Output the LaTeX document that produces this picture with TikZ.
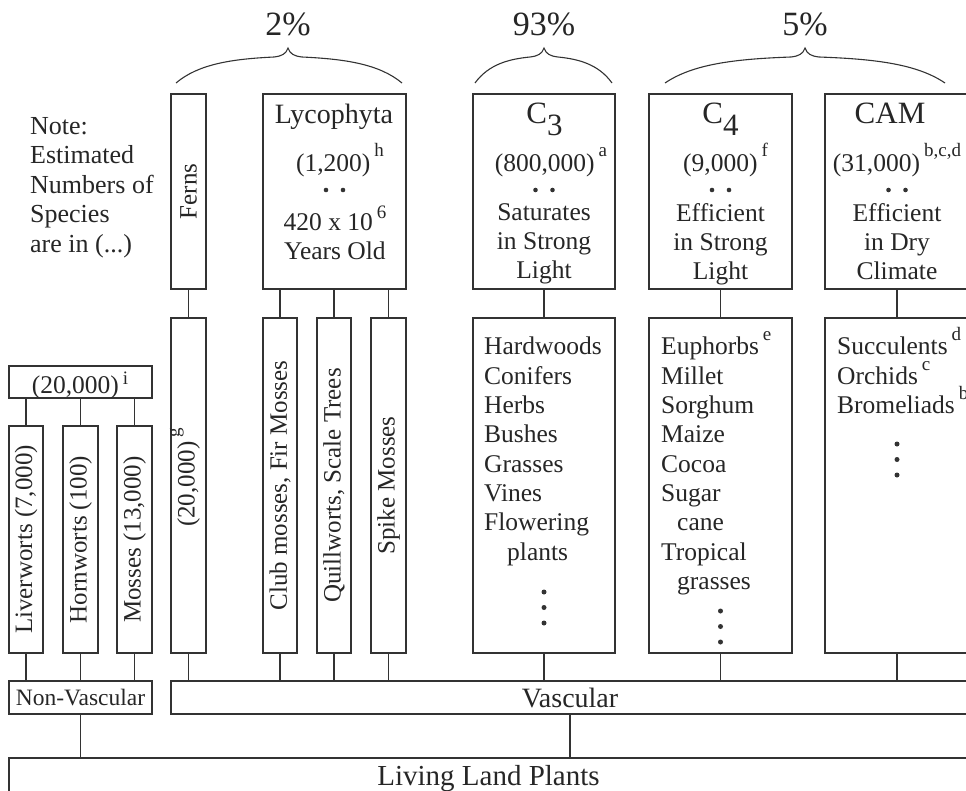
\documentclass[tikz,border=0pt]{standalone}
\usepackage{fontspec}
\setmainfont{Liberation Serif}
\usepackage{graphicx}
\usepackage{tikz}
\usetikzlibrary{positioning,calc}

\newcommand{\sups}[2][15pt]{\hspace{4pt}\raisebox{#1}[0pt][0pt]{\fontsize{19}{19}\selectfont #2}}
\newcommand{\csub}[1]{\raisebox{-12pt}{#1}}

\begin{document}
\begin{tikzpicture}[
    x=1pt, y=-1pt,
    box/.style={rectangle, draw=black!80, line width=1.3pt, inner sep=0pt},
    txt/.style={inner sep=0pt, align=center, text=black!85,
                font=\fontsize{25.5}{29.3}\selectfont},
    lst/.style={txt, align=left, anchor=north west},
    side/.style={txt, font=\fontsize{25}{25}\selectfont},
    head/.style={txt, anchor=base, font=\fontsize{31}{31}\selectfont},
    pct/.style={txt, anchor=base, font=\fontsize{34}{34}\selectfont},
    link/.style={draw=black!80, line width=1.1pt},
    brace/.style={draw=black!80, line width=1.1pt},
    dotc/.style={fill=black!80},
  ]
  \useasboundingbox (0,0) rectangle (966,790);
  \clip (0,0) rectangle (966,790);

  % Shares and braces
  \node[pct] (pctlyco) at (288,35) {2\%};
  \node[pct] (pctcthree) at (544,35) {93\%};
  \node[pct] (pctcfour) at (805,35) {5\%};
  \foreach \l/\m/\r in {176/288/402, 475/544/612, 665/805/945}
    \draw[brace] (\l,83) .. controls ({\l+0.2*(\m-\l)},64) and ({\l+0.5*(\m-\l)},59) .. ({\m-14},57)
      .. controls ({\m-6},56) and ({\m-2},54) .. (\m,48)
      .. controls ({\m+2},54) and ({\m+6},56) .. ({\m+14},57)
      .. controls ({\r-0.5*(\r-\m)},59) and ({\r-0.2*(\r-\m)},64) .. (\r,83);

  % Note
  \node[txt, align=left, anchor=north west, font=\fontsize{26}{29.5}\selectfont] (note) at (30,117)
    {Note:\\Estimated\\Numbers of\\Species\\are in (...)};

  % Top row
  \node[box, side, minimum width=35pt, minimum height=195pt] (ferns) at (188.5,191.5) {\rotatebox{90}{Ferns}};
  \node[box, minimum width=143pt, minimum height=195pt] (lyco) at (334.5,191.5) {};
  \node[box, minimum width=142pt, minimum height=195pt] (cthree) at (544,191.5) {};
  \node[box, minimum width=143pt, minimum height=195pt] (cfour) at (720.5,191.5) {};
  \node[box, minimum width=144pt, minimum height=195pt] (cam) at (897,191.5) {};

  \node[txt, anchor=base, font=\fontsize{28}{28}\selectfont] (lycohead) at (334,123) {Lycophyta};
  \node[txt, anchor=base] (lyconum) at (340,171) {(1,200)\sups{h}};
  \node[txt, anchor=north] (lycoage) at (335,213) {420 x 10\sups[12pt]{6}\\Years Old};
  \node[head] (cthreehead) at (544.5,123) {C\csub{3}};
  \node[txt, anchor=base] (cthreenum) at (551,171) {(800,000)\sups{a}};
  \node[txt, anchor=north] (cthreedesc) at (544,203) {Saturates\\in Strong\\Light};
  \node[head] (cfourhead) at (720.5,123) {C\csub{4}};
  \node[txt, anchor=base] (cfournum) at (725.5,171) {(9,000)\sups{f}};
  \node[txt, anchor=north] (cfourdesc) at (720.5,203) {Efficient\\in Strong\\Light};
  \node[head] (camhead) at (890,123) {CAM};
  \node[txt, anchor=base] (camnum) at (897,171) {(31,000)\sups{b,c,d}};
  \node[txt, anchor=north] (camdesc) at (897,203) {Efficient\\in Dry\\Climate};

  % Middle row
  \node[box, side, minimum width=35pt, minimum height=335pt] (fernsnum) at (188.5,485.5) {\rotatebox{90}{\hspace*{16pt}(20,000)\sups{g}}};
  \node[box, side, minimum width=34pt, minimum height=335pt] (clubm) at (280,485.5) {\rotatebox{90}{Club mosses, Fir Mosses}};
  \node[box, side, minimum width=34pt, minimum height=335pt] (quillw) at (334,485.5) {\rotatebox{90}{Quillworts, Scale Trees}};
  \node[box, side, minimum width=35pt, minimum height=335pt] (spikem) at (388.5,485.5) {\rotatebox{90}{Spike Mosses}};
  \node[box, minimum width=142pt, minimum height=335pt] (cthreelist) at (544,485.5) {};
  \node[box, minimum width=143pt, minimum height=335pt] (cfourlist) at (720.5,485.5) {};
  \node[box, minimum width=144pt, minimum height=335pt] (camlist) at (897,485.5) {};

  \node[lst] (cthreenames) at (484,337) {Hardwoods\\Conifers\\Herbs\\Bushes\\Grasses\\Vines\\Flowering\\\hspace*{23pt}plants};
  \node[lst] (cfournames) at (661,337) {Euphorbs\sups[14pt]{e}\\Millet\\Sorghum\\Maize\\Cocoa\\Sugar\\\hspace*{16pt}cane\\Tropical\\\hspace*{16pt}grasses};
  \node[lst] (camnames) at (837,337) {Succulents\sups[14pt]{d}\\Orchids\sups[14pt]{c}\\Bromeliads\sups[14pt]{b}};

  % Non-vascular column
  \node[box, minimum width=143pt, minimum height=32pt] (nvnum) at (80.5,382) {};
  \node[txt, anchor=base] (nvnumtxt) at (80,393) {(20,000)\sups[9pt]{i}};
  \node[box, side, minimum width=34pt, minimum height=227pt] (liver) at (26,539.5) {\rotatebox{90}{Liverworts (7,000)}};
  \node[box, side, minimum width=35pt, minimum height=227pt] (horn) at (80.5,539.5) {\rotatebox{90}{Hornworts (100)}};
  \node[box, side, minimum width=35pt, minimum height=227pt] (moss) at (134.5,539.5) {\rotatebox{90}{Mosses (13,000)}};

  % Bottom bars
  \node[box, txt, font=\fontsize{23.5}{23.5}\selectfont, minimum width=143pt, minimum height=33pt] (nonvasc) at (80.5,697.5) {Non-Vascular};
  \node[box, txt, font=\fontsize{28}{28}\selectfont, minimum width=798pt, minimum height=33pt] (vasc) at (570,697.5) {Vascular};
  \node[box, txt, font=\fontsize{29}{29}\selectfont, minimum width=959pt, minimum height=42pt] (living) at (488.5,779) {Living Land Plants};

  % Connectors
  \draw[link] (ferns) -- (fernsnum);
  \foreach \n in {clubm,quillw,spikem}
    \draw[link] (\n.north) -- (\n.north |- lyco.south);
  \draw[link] (cthree) -- (cthreelist);
  \draw[link] (cfour) -- (cfourlist);
  \draw[link] (cam) -- (camlist);
  \foreach \n in {fernsnum,clubm,quillw,spikem,cthreelist,cfourlist,camlist}
    \draw[link] (\n.south) -- (\n.south |- vasc.north);
  \foreach \n in {liver,horn,moss} {
    \draw[link] (\n.north) -- (\n.north |- nvnum.south);
    \draw[link] (\n.south) -- (\n.south |- nonvasc.north);
  }
  \draw[link] (nonvasc.south) -- (nonvasc.south |- living.north);
  \draw[link] (vasc.south) -- (vasc.south |- living.north);

  % Dots
  \foreach \b in {lyco,cthree,cfour,cam}
    \foreach \dx in {-8.5,8.5}
      \fill[dotc] ($(\b.center |- 0,190)+(\dx,0)$) circle (2.3pt);
  \foreach \b/\y in {cthreelist/592, cfourlist/611, camlist/444}
    \foreach \k in {0,1,2}
      \fill[dotc] ($(\b.center |- 0,\y)+(0,{15.5*\k})$) circle (2.5pt);
\end{tikzpicture}
\end{document}
